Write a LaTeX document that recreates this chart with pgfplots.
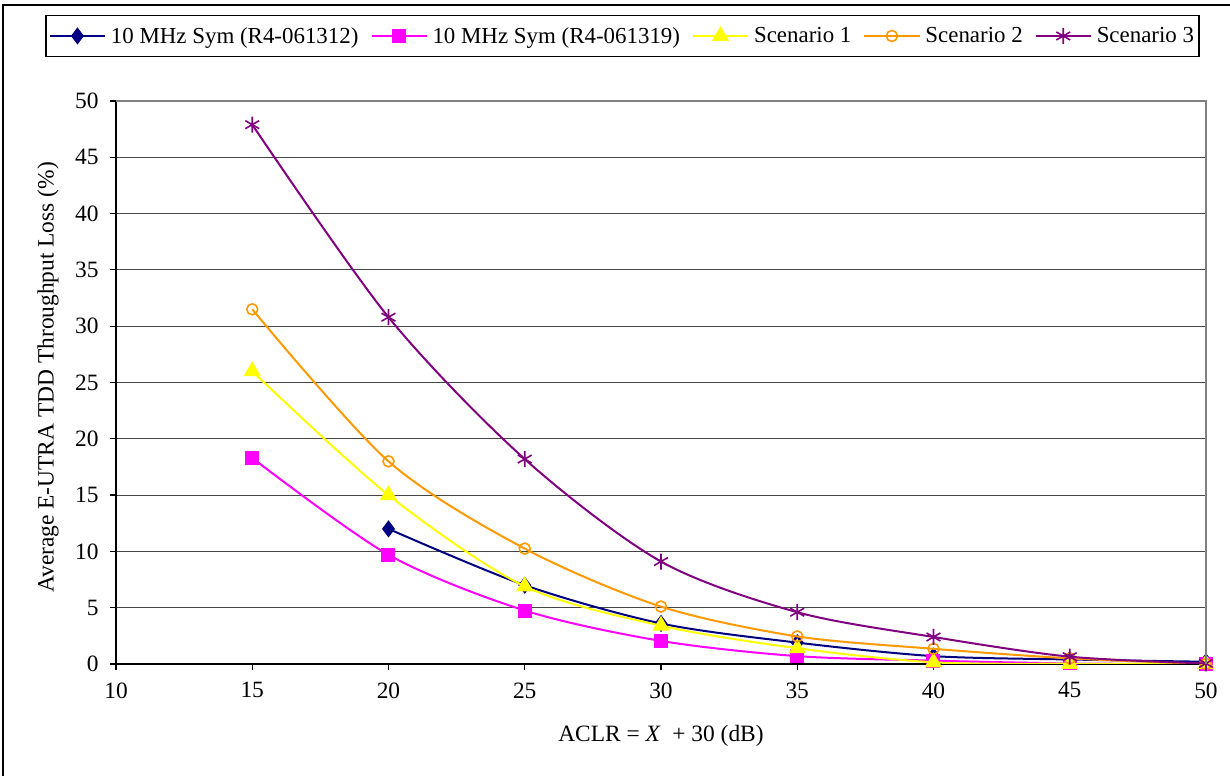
\documentclass[border=0pt]{standalone}
\usepackage{fontspec}
\setmainfont{Liberation Serif}
\usepackage{pgfplots}
\pgfplotsset{compat=1.18}
\definecolor{cnavy}{RGB}{0,0,128}
\definecolor{cmag}{RGB}{255,0,255}
\definecolor{cyel}{RGB}{255,255,0}
\definecolor{corg}{RGB}{255,153,0}
\definecolor{cpur}{RGB}{128,0,128}
\definecolor{cgrid}{RGB}{70,70,70}
\begin{document}
\begin{tikzpicture}
\useasboundingbox (0,0) rectangle (1230bp,776bp);
\fill[white] (0,0) rectangle (1230bp,776bp);
\draw[line width=2.5bp] (3bp,-2bp) -- (3bp,771bp) -- (1232bp,771bp);
\begin{axis}[
  at={(116bp,112bp)}, anchor=south west,
  width=1090bp, height=563bp, scale only axis,
  xmin=10, xmax=50, ymin=0, ymax=50,
  xtick={10,15,...,50}, ytick={0,5,...,50},
  axis x line*=bottom, axis y line*=left,
  axis line style={line width=1.5bp, black, -},
  tick align=outside, major tick length=6bp,
  tick style={line width=1.2bp, black},
  ymajorgrids, grid style={line width=1bp, cgrid},
  font=\fontsize{23.5}{27}\selectfont,
  /pgf/number format/assume math mode=true,
  xticklabel shift=9bp,
  yticklabel shift=8bp,
  clip mode=individual,
  xlabel={ACLR = \textit{X}~ + 30 (dB)},
  ylabel={Average E-UTRA TDD Throughput Loss (\%)},
  every axis x label/.style={at={(rel axis cs:0.5,0)}, anchor=center, yshift=-72bp},
  every axis y label/.style={at={(rel axis cs:0,0.5)}, anchor=center, xshift=-68bp, yshift=5bp, rotate=90},
  legend columns=5,
  legend style={at={(0.4647,1.1155)}, anchor=center, draw=black, line width=1.2bp,
    font=\fontsize{23}{27}\selectfont, inner ysep=10bp,
    /tikz/every odd column/.append style={column sep=3bp},
    /tikz/every even column/.append style={column sep=10bp}},
  legend image code/.code={\draw[mark repeat=2,mark phase=2] plot coordinates {(0bp,0bp) (27.5bp,0bp) (55bp,0bp)};},
]
\addplot[cnavy, line width=2bp, smooth, mark=diamond*, mark size=7bp, mark options={solid}]
  coordinates {(20,12.0)(25,7.0)(30,3.6)(35,1.9)(40,0.7)(45,0.4)(50,0.2)};
\addlegendentry{10 MHz Sym (R4-061312)}
\addplot[cmag, line width=2bp, smooth, mark=square*, mark size=6bp, mark options={solid}]
  coordinates {(15,18.3)(20,9.7)(25,4.75)(30,2.05)(35,0.7)(40,0.3)(45,0.05)(50,0)};
\addlegendentry{10 MHz Sym (R4-061319)}
\addplot[cyel, line width=2bp, smooth, mark=triangle*, mark size=8bp, mark options={solid}]
  coordinates {(15,26.0)(20,15.0)(25,6.9)(30,3.4)(35,1.4)(40,0.15)(45,0.02)(50,0)};
\addlegendentry{Scenario 1}
\addplot[corg, line width=2bp, smooth, mark=o, mark size=5.5bp, mark options={solid, line width=1.6bp}]
  coordinates {(15,31.5)(20,18.0)(25,10.25)(30,5.1)(35,2.45)(40,1.35)(45,0.5)(50,0)};
\addlegendentry{Scenario 2}
\addplot[cpur, line width=2bp, smooth, mark=asterisk, mark size=8bp, mark options={solid, line width=1.6bp}]
  coordinates {(15,47.9)(20,30.8)(25,18.2)(30,9.1)(35,4.6)(40,2.4)(45,0.65)(50,0.05)};
\addlegendentry{Scenario 3}
\draw[gray, line width=1.5bp] (rel axis cs:0,1) -- (rel axis cs:1,1) -- (rel axis cs:1,0);
\end{axis}
\end{tikzpicture}
\end{document}
